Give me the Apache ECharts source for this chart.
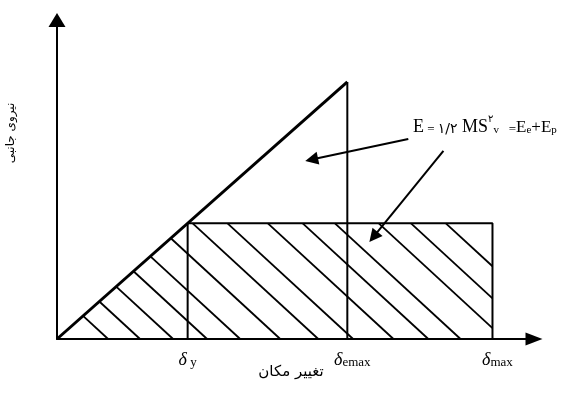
<!DOCTYPE html>
<html>
<head>
<meta charset="utf-8">
<script src="https://cdn.jsdelivr.net/npm/echarts@6/dist/echarts.min.js"></script>
<style>
  html, body { margin: 0; background: #fff; }
  #chart { width: 564px; height: 410px; }
</style>
</head>
<body>
<div id="chart"></div>
<script>
// displacement (x) / lateral force (y), arbitrary units
const dY = 4.5, dEmax = 10, dMax = 15;
const fY = 4.5, fEmax = 10;
const elastic = [[0, 0], [dEmax, fEmax]];
const drop = [[dEmax, fEmax], [dEmax, 0]];
const plastic = [[dY, 0], [dY, fY], [dMax, fY], [dMax, 0]];
// where each hatch line would meet the x axis
const hatchX = [1.76, 2.86, 4.0, 5.17, 6.31, 7.69, 9.0, 10.2, 11.59, 12.79, 13.9, 15.41, 16.52, 17.72];
const hatchSlope = 1.04;
const tickValues = [dY, dEmax, dMax];
const tickSubs = ['y', 'emax', 'max'];
// annotation arrows: [from, to]
const arrows = [
  [[12.1, 7.78], [8.77, 6.98]],
  [[13.31, 7.32], [10.9, 3.97]]
];

const k = fY / dY; // elastic stiffness

// clip one hatch line to the area under elastic line / plastic box
function hatchSeg(x0) {
  const lo = x0 <= dMax ? [x0, 0] : [dMax, hatchSlope * (x0 - dMax)];
  const xt = x0 - fY / hatchSlope;
  let hi;
  if (xt >= dY) {
    hi = [xt, fY];
  } else {
    const xi = hatchSlope * x0 / (hatchSlope + k);
    hi = [xi, k * xi];
  }
  return { coords: [hi, lo] };
}

const hatch = hatchX.map(hatchSeg).filter(d => d.coords[1][1] < d.coords[0][1]);

const black = '#000';
const chart = echarts.init(document.getElementById('chart'));

chart.setOption({
  animation: false,
  grid: { left: 57, right: 30, top: 20, bottom: 71 },
  xAxis: {
    type: 'value',
    min: 0,
    max: 16.43,
    splitLine: { show: false },
    axisTick: { show: false },
    axisLine: {
      lineStyle: { color: black, width: 2 },
      symbol: ['none', 'triangle'],
      symbolSize: [13, 17]
    },
    axisLabel: {
      customValues: tickValues,
      margin: 12,
      formatter: function (v) {
        const i = tickValues.indexOf(v);
        if (i === 0) return '{d|δ} {s|' + tickSubs[i] + '}';
        return '{p|}{d|δ}{s|' + tickSubs[i] + '}';
      },
      rich: {
        d: { fontFamily: 'Liberation Serif', fontStyle: 'italic', fontSize: 18, color: black, lineHeight: 18, verticalAlign: 'bottom' },
        s: { fontFamily: 'Liberation Serif', fontSize: 13, color: black, lineHeight: 15, verticalAlign: 'bottom' },
        p: { width: 10 }
      }
    }
  },
  yAxis: {
    type: 'value',
    min: 0,
    max: 12.41,
    splitLine: { show: false },
    axisTick: { show: false },
    axisLabel: { show: false },
    axisLine: {
      lineStyle: { color: black, width: 2 },
      symbol: ['none', 'triangle'],
      symbolSize: [17, 14]
    }
  },
  series: [
    {
      type: 'lines',
      coordinateSystem: 'cartesian2d',
      data: hatch,
      lineStyle: { color: black, width: 1.8, opacity: 1 },
      z: 2
    },
    {
      type: 'line',
      data: plastic,
      symbol: 'none',
      lineStyle: { color: black, width: 2 },
      z: 3
    },
    {
      type: 'line',
      data: drop,
      symbol: 'none',
      lineStyle: { color: black, width: 2 },
      z: 3
    },
    {
      type: 'line',
      data: elastic,
      symbol: 'none',
      lineStyle: { color: black, width: 3 },
      z: 4
    },
    {
      type: 'lines',
      coordinateSystem: 'cartesian2d',
      data: arrows.map(a => ({ coords: a })),
      symbol: ['none', 'triangle'],
      symbolSize: 13,
      lineStyle: { color: black, width: 2, opacity: 1 },
      itemStyle: { color: black },
      z: 5
    }
  ],
  graphic: [
    {
      type: 'text',
      x: 413,
      y: 114,
      style: {
        text: '{E|E}{eq| = }{n|۱/۲}{E| MS}{sup|۲}{sub|v}{eq|   =}{T|E}{sub|e}{T|+E}{sub|p}',
        rich: {
          E: { fontFamily: 'Liberation Serif', fontSize: 18, fill: black, lineHeight: 22, verticalAlign: 'bottom' },
          T: { fontFamily: 'Liberation Serif', fontSize: 17, fill: black, lineHeight: 21, verticalAlign: 'bottom' },
          eq: { fontFamily: 'Liberation Serif', fontSize: 13, fill: black, lineHeight: 18, verticalAlign: 'bottom' },
          n: { fontFamily: 'DejaVu Sans', fontSize: 14, fill: black, lineHeight: 17, verticalAlign: 'bottom' },
          sup: { fontFamily: 'DejaVu Sans', fontSize: 10, fill: black, lineHeight: 19, verticalAlign: 'top' },
          sub: { fontFamily: 'Liberation Serif', fontSize: 11, fill: black, lineHeight: 8, verticalAlign: 'bottom' }
        }
      }
    },
    {
      type: 'text',
      x: 11,
      y: 133,
      rotation: Math.PI / 2,
      style: {
        text: 'نیروی جانبی',
        fontFamily: 'DejaVu Sans',
        fontSize: 12,
        fill: black,
        align: 'center',
        verticalAlign: 'middle'
      }
    },
    {
      type: 'text',
      x: 291,
      y: 372,
      style: {
        text: 'تغییر مکان',
        fontFamily: 'DejaVu Sans',
        fontSize: 15,
        fill: black,
        align: 'center',
        verticalAlign: 'middle'
      }
    }
  ]
});
</script>
</body>
</html>
